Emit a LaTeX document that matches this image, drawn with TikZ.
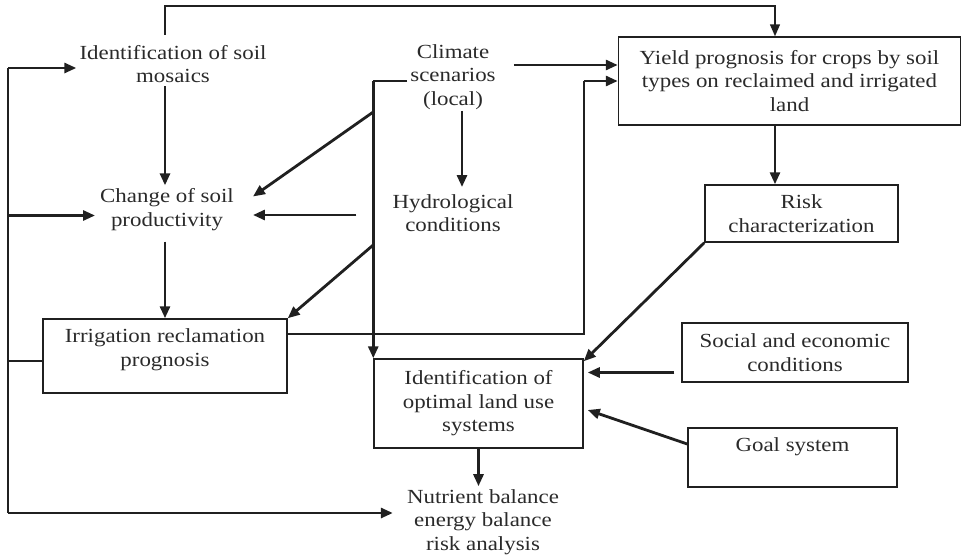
\documentclass[tikz,border=0pt]{standalone}
\usepackage{fontspec}
\setmainfont{Liberation Serif}[FakeStretch=1.145]
\usetikzlibrary{arrows.meta,calc}
\definecolor{ink}{HTML}{202020}
\definecolor{txt}{HTML}{2A2A2A}
\begin{document}
\begin{tikzpicture}[x=1pt,y=-1pt,
  lbl/.style={font=\fontsize{20}{23.5}\selectfont, text=txt, align=center, inner sep=3pt},
  box/.style={lbl, draw=ink, line width=1.5pt},
  line/.style={draw=ink, line width=1.5pt},
  bus/.style={draw=ink, line width=1.9pt},
  arr/.style={draw=ink, line width=2.8pt, -{Triangle[length=12pt,width=10pt]}},
  thinarr/.style={draw=ink, line width=1.5pt, -{Triangle[length=12pt,width=10pt]}}]
\useasboundingbox (0,0) rectangle (962,560);

% free-standing labels
\node[lbl] (mos)  at (173,64)    {Identification of soil\\mosaics};
\node[lbl] (chg)  at (167,209.5) {Change of soil\\productivity};
\node[lbl] (clim) at (453,77)    {Climate\\scenarios\\(local)};
\node[lbl] (hyd)  at (453,213)   {Hydrological\\conditions};
\node[lbl] (nut)  at (483,522)   {Nutrient balance\\energy balance\\risk analysis};

% boxes
\node[box, minimum width=342pt, minimum height=88pt] (yld) at (789.5,81)
  {Yield prognosis for crops by soil\\types on reclaimed and irrigated\\land};
\node[box, minimum width=193pt, minimum height=57pt] (risk) at (801.5,213.5)
  {Risk\\characterization};
\node[box, minimum width=244pt, minimum height=74pt] (irr) at (165,356)
  {Irrigation reclamation\\prognosis\\[-6.7pt]\mbox{}};
\node[box, minimum width=209pt, minimum height=89pt] (idn) at (478.5,403.5)
  {Identification of\\optimal land use\\systems};
\node[box, minimum width=226pt, minimum height=59pt] (soc) at (795,352.5)
  {Social and economic\\conditions};
\node[box, minimum width=209pt, minimum height=59pt] (goal) at (792.5,457.5)
  {Goal system\\[2pt]\mbox{}};

% helper points
\coordinate (yx) at ($(yld.north)+(-14.5,0)$);
\coordinate (ceil) at (0,6);
\coordinate (busT) at (8,68);
\coordinate (busB) at (8,513);
\coordinate (cj) at ($(idn.north west |- clim.west)+(0,4)$);
\coordinate (d1) at ($(cj)+(0,31)$);
\coordinate (d2) at ($(cj)+(0,164)$);
\coordinate (ij) at (idn.east |- cj);

% feedback loop over the top
\draw[thinarr] ($(mos.north -| irr.north)+(0,-7)$) |- (ceil -| yx) -- (yx);

% left bus
\draw[bus] (busT) -- (busB);
\draw[line] ($(irr.west)+(0,5)$) -- ($(busT |- irr.west)+(0,5)$);
\draw[arr] (busT) -- (busT -| mos.west);
\draw[arr] ($(busT |- chg.west)+(0,6)$) -- ($(chg.west)+(-2,6)$);
\draw[arr] (busB) -- ($(busB -| nut.west)+(-11,0)$);

% left column chain
\draw[arr] (mos.south -| irr.north) -- (chg.north -| irr.north);
\draw[arr] ($(chg.south -| irr.north)+(0,8)$) -- (irr.north);

% climate trunk
\draw[line] (clim.west |- cj) -- (cj);
\draw[arr] (cj) -- (idn.north west);
\draw[arr] (d1) -- ($(chg.east)+(16,-13)$);
\draw[arr] (d2) -- (irr.north east);
\draw[arr] ($(clim.south)+(9,-2)$) -- ($(clim.south |- hyd.north)+(9,-4)$);
\draw[arr] ($(hyd.west)+(-33,2)$) coordinate (h1) -- ($(chg.east |- h1)+(16,0)$);

% into the yield box
\draw[arr] ($(clim.east)+(15,-12)$) coordinate (c1) -- (yld.west |- c1);
\draw[line] ($(irr.east)+(0,-22)$) -| (ij);
\draw[arr] (ij) -- (yld.west |- ij);

% right column
\draw[arr] (yx |- yld.south) -- (yx |- risk.north);
\draw[arr] (risk.south west) -- ($(idn.north east)+(0,3)$);
\draw[arr] ($(soc.west)+(-7,20)$) coordinate (s1) -- ($(idn.east |- s1)+(4,0)$);
\draw[arr] ($(goal.west)+(0,-13.5)$) -- ($(idn.east)+(4,6.5)$);
\draw[arr] (idn.south) -- (idn.south |- nut.north);
\end{tikzpicture}
\end{document}
